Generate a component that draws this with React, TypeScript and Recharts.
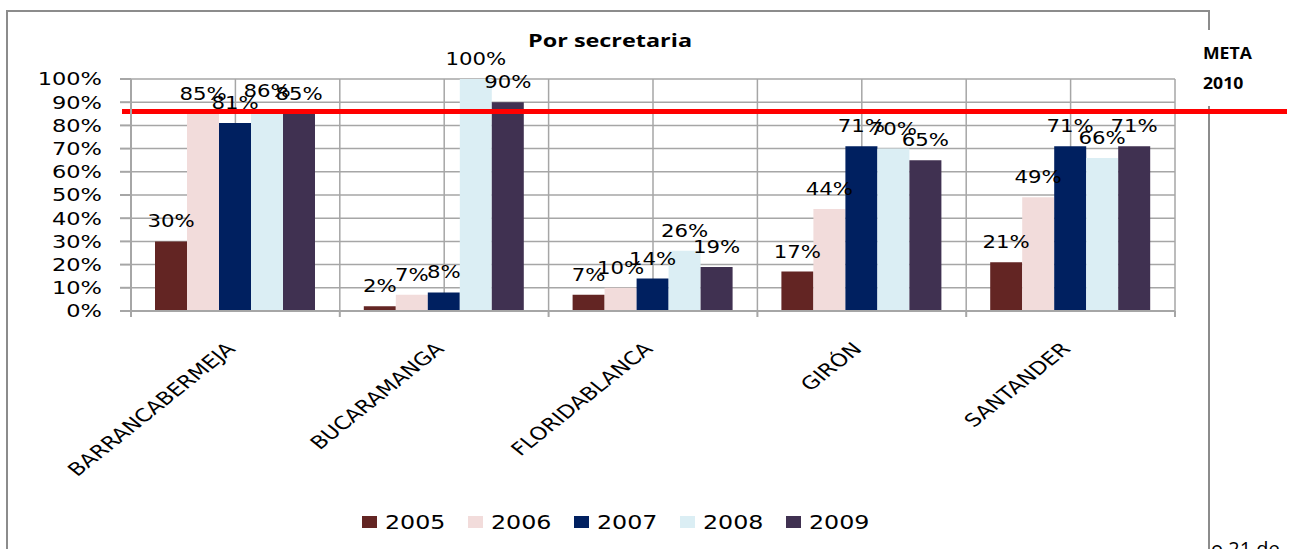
import React from "react";
import {
  BarChart, Bar, XAxis, YAxis, CartesianGrid, Legend, ReferenceLine, LabelList
} from "recharts";

const secretarias = ["BARRANCABERMEJA", "BUCARAMANGA", "FLORIDABLANCA", "GIRÓN", "SANTANDER"];
const v2005 = [30, 2, 7, 17, 21];
const v2006 = [85, 7, 10, 44, 49];
const v2007 = [81, 8, 14, 71, 71];
const v2008 = [86, 100, 26, 70, 66];
const v2009 = [85, 90, 19, 65, 71];
const yTicks = [0, 10, 20, 30, 40, 50, 60, 70, 80, 90, 100];
const meta2010 = 86;

const series = [
  { key: "2005", values: v2005, color: "#632523" },
  { key: "2006", values: v2006, color: "#F2DCDB" },
  { key: "2007", values: v2007, color: "#002060" },
  { key: "2008", values: v2008, color: "#DBEEF4" },
  { key: "2009", values: v2009, color: "#403151" },
];

const data = secretarias.map((name, i) => {
  const row: { [k: string]: string | number } = { name };
  series.forEach((s) => { row[s.key] = s.values[i]; });
  return row;
});

const W = 1291;
const H = 549;
const MARGIN = { top: 79, right: 116, left: 0, bottom: 0 };
const Y_AXIS_W = 131;
const CAT_W = (W - Y_AXIS_W - MARGIN.right) / secretarias.length;
const SX = 1.25; // the original is stretched sideways
const GRID = "#a6a6a6";
const VERDANA = "'DejaVu Sans', Verdana, sans-serif";
const CALIBRI = "'Open Sans', Calibri, sans-serif";

const YTick = (props: any) => {
  const { x, y, payload } = props;
  return (
    <g transform={`translate(${x},${y}) scale(${SX},1)`}>
      <text textAnchor="end" dy="0.36em" fontSize={18} fontFamily={VERDANA} fill="#000">
        {payload.value}%
      </text>
    </g>
  );
};

const XTick = (props: any) => {
  const { x, y, payload, index } = props;
  const left = x - CAT_W / 2;
  return (
    <g>
      <line x1={left} y1={y} x2={left} y2={y + 6} stroke={GRID} strokeWidth={2} />
      {index === secretarias.length - 1 && (
        <line x1={x + CAT_W / 2} y1={y} x2={x + CAT_W / 2} y2={y + 6} stroke={GRID} strokeWidth={2} />
      )}
      <g transform={`translate(${x + 1},${y + 39}) scale(${SX},1) rotate(-45)`}>
        <text textAnchor="end" fontSize={18} fontFamily={VERDANA} fill="#000">
          {payload.value}
        </text>
      </g>
    </g>
  );
};

const BarLabel = (props: any) => {
  const { x, y, width, value } = props;
  return (
    <g transform={`translate(${x + width / 2},${y - 14}) scale(${SX},1)`}>
      <text textAnchor="middle" fontSize={17} fontFamily={VERDANA} fill="#000">
        {value}%
      </text>
    </g>
  );
};

const MetaLine = (props: any) => (
  <line x1={props.x1 - 9} y1={props.y1} x2={W - 4} y2={props.y2} stroke="#ff0000" strokeWidth={5} />
);

const LegendBox = (props: any) => (
  <div style={{ display: "flex", height: 24, alignItems: "center" }}>
    {(props.payload || []).map((item: any) => (
      <div key={item.value} style={{ width: 106, display: "flex", alignItems: "center" }}>
        <span style={{ width: 15, height: 12, background: item.color, display: "inline-block", marginRight: 8 }} />
        <span style={{
          display: "inline-block", fontFamily: VERDANA, fontSize: 19, color: "#000",
          transform: `scaleX(${SX})`, transformOrigin: "left center",
        }}>
          {item.value}
        </span>
      </div>
    ))}
  </div>
);

export default function App() {
  return (
    <div style={{ position: "absolute", left: 0, top: 0, width: W, height: H, overflow: "hidden", background: "#fff" }}>
      <div style={{
        position: "absolute", left: 6, top: 10, width: 1204, height: 700,
        border: "2px solid #8c8c8c", boxSizing: "border-box",
      }} />
      <div style={{ position: "absolute", left: 0, top: 0 }}>
        <BarChart width={W} height={H} data={data} margin={MARGIN} barCategoryGap={24} barGap={0}>
          <CartesianGrid
            stroke={GRID}
            strokeWidth={1.5}
            verticalCoordinatesGenerator={({ offset }: any) =>
              Array.from({ length: secretarias.length * 2 + 1 }, (_, i) => offset.left + (i * offset.width) / (secretarias.length * 2))
            }
          />
          <XAxis
            dataKey="name"
            interval={0}
            height={H - MARGIN.top - 232}
            tickLine={false}
            tickSize={0}
            tickMargin={0}
            axisLine={{ stroke: GRID, strokeWidth: 2 }}
            tick={<XTick />}
          />
          <YAxis
            type="number"
            domain={[0, 100]}
            ticks={yTicks}
            width={Y_AXIS_W}
            tickSize={11}
            tickMargin={18}
            tickLine={{ stroke: GRID, strokeWidth: 2 }}
            axisLine={{ stroke: GRID, strokeWidth: 2 }}
            tick={<YTick />}
          />
          <Legend
            layout="horizontal"
            verticalAlign="middle"
            align="center"
            content={<LegendBox />}
            wrapperStyle={{ position: "absolute", left: 362, top: 510, width: 540 }}
          />
          {series.map((s) => (
            <Bar key={s.key} dataKey={s.key} name={s.key} fill={s.color} isAnimationActive={false}>
              <LabelList dataKey={s.key} content={<BarLabel />} />
            </Bar>
          ))}
          <ReferenceLine y={meta2010} stroke="#ff0000" strokeWidth={5} shape={MetaLine} />
        </BarChart>
      </div>
      <div style={{
        position: "absolute", left: 528, top: 28, fontFamily: CALIBRI, fontWeight: 700, fontSize: 18,
        transform: "scaleX(1.3)", transformOrigin: "left top", whiteSpace: "nowrap", color: "#000",
      }}>
        Por secretaria
      </div>
      <div style={{
        position: "absolute", left: 1198, top: 30, width: 70, height: 76, background: "#fff",
      }} />
      <div style={{
        position: "absolute", left: 1203, top: 38, fontFamily: CALIBRI, fontWeight: 700, fontSize: 16,
        lineHeight: "30px", transform: "scaleX(1.1)", transformOrigin: "left top", color: "#000",
      }}>
        META<br />2010
      </div>
      <div style={{
        position: "absolute", left: 1211, top: 535, fontFamily: CALIBRI, fontSize: 20, whiteSpace: "nowrap", color: "#000",
      }}>
        o 21 de
      </div>
    </div>
  );
}
